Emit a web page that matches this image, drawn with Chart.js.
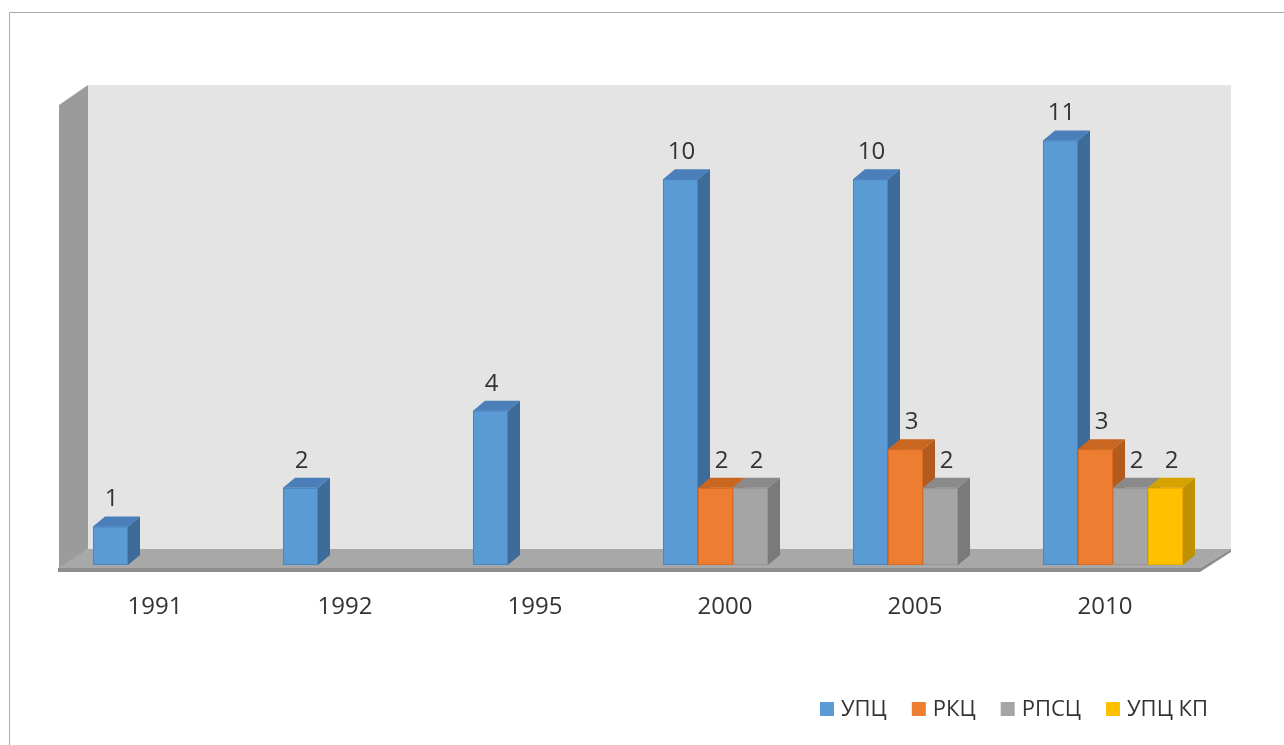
<!DOCTYPE html>
<html>
<head>
<meta charset="utf-8">
<script src="https://cdn.jsdelivr.net/npm/chart.js@4.4.1/dist/chart.umd.min.js"></script>
<style>
  html, body { margin: 0; padding: 0; background: #fff; }
  #wrap { position: relative; width: 1284px; height: 745px; }
</style>
</head>
<body>
<div id="wrap"><canvas id="chart" width="1284" height="745"></canvas></div>
<script>
// Данные по годам
const years = ['1991', '1992', '1995', '2000', '2005', '2010'];
const seriesNames = ['УПЦ', 'РКЦ', 'РПСЦ', 'УПЦ КП'];
const upc   = [1, 2, 4, 10, 10, 11];
const rkc   = [null, null, null, 2, 3, 3];
const rpsc  = [null, null, null, 2, 2, 2];
const upcKp = [null, null, null, null, null, 2];

// цвета граней: лицевая, кромка, верх, бок
const faces = [
    { front: '#5b9bd5', edge: '#4a86c0', top: '#4a7fb9', side: '#3d6b9a' },
    { front: '#ed7d31', edge: '#d86c24', top: '#c9661f', side: '#b35a1c' },
    { front: '#a5a5a5', edge: '#969696', top: '#8a8a8a', side: '#7a7a7a' },
    { front: '#ffc000', edge: '#e8ae00', top: '#d6a200', side: '#bf9000' }
];

const DX = 12, DY = -10;   // глубина столбиков
const FONT = '"Open Sans", "DejaVu Sans", sans-serif';
const TEXT_COLOR = '#333333';

function poly(ctx, pts, fill) {
    ctx.beginPath();
    ctx.moveTo(pts[0][0], pts[0][1]);
    for (let i = 1; i < pts.length; i++) ctx.lineTo(pts[i][0], pts[i][1]);
    ctx.closePath();
    ctx.fillStyle = fill;
    ctx.fill();
}

// рамка, стенки и пол
const wallsPlugin = {
    id: 'walls',
    beforeDraw(chart) {
        const ctx = chart.ctx;
        const a = chart.chartArea;
        ctx.save();
        ctx.fillStyle = '#fff';
        ctx.fillRect(0, 0, chart.width, chart.height);
        ctx.strokeStyle = '#a9a9a9';
        ctx.lineWidth = 1;
        ctx.beginPath();
        ctx.moveTo(9.5, chart.height);
        ctx.lineTo(9.5, 12.5);
        ctx.lineTo(chart.width, 12.5);
        ctx.stroke();

        const L = a.left, R = a.right, T = a.top, B = a.bottom;
        // задняя стенка
        ctx.fillStyle = '#e4e4e4';
        ctx.fillRect(L + 20, T - 17, (R + 23) - (L + 20), (B - 16) - (T - 17));
        // левая стенка
        poly(ctx, [[L - 9, T + 3], [L + 20, T - 17], [L + 20, B - 16], [L - 9, B + 5]], '#9b9b9b');
        // пол
        poly(ctx, [[L - 10, B + 3], [L + 20, B - 16], [R + 23, B - 16], [R - 8, B + 3]], '#a8a8a8');
        poly(ctx, [[L - 10, B + 3], [R - 8, B + 3], [R - 8, B + 7], [L - 10, B + 7]], '#8e8e8e');
        poly(ctx, [[R - 8, B + 3], [R + 23, B - 16], [R + 23, B - 13], [R - 8, B + 7]], '#8e8e8e');
        ctx.restore();
    }
};

// объёмные столбики, подписи значений и легенда
const bars3dPlugin = {
    id: 'bars3d',
    afterDatasetsDraw(chart) {
        const ctx = chart.ctx;
        const n = chart.data.labels.length;
        const sets = chart.data.datasets;
        ctx.save();
        // слева направо, чтобы правый столбик закрывал бок левого
        for (let c = 0; c < n; c++) {
            for (let d = 0; d < sets.length; d++) {
                const v = sets[d].data[c];
                if (v === null || v === undefined) continue;
                const bar = chart.getDatasetMeta(d).data[c];
                const p = bar.getProps(['x', 'y', 'base', 'width'], true);
                const x0 = p.x - p.width / 2, x1 = p.x + p.width / 2;
                const f = faces[d];
                ctx.fillStyle = f.front;
                ctx.fillRect(x0, p.y, p.width, p.base - p.y);
                ctx.strokeStyle = f.edge;
                ctx.lineWidth = 1;
                ctx.strokeRect(x0 + 0.5, p.y + 0.5, p.width - 1, p.base - p.y - 1);
                poly(ctx, [[x0, p.y], [x0 + DX, p.y + DY], [x1 + DX, p.y + DY], [x1, p.y]], f.top);
                poly(ctx, [[x1, p.y], [x1 + DX, p.y + DY], [x1 + DX, p.base + DY], [x1, p.base]], f.side);
            }
        }
        ctx.font = '24px ' + FONT;
        ctx.fillStyle = TEXT_COLOR;
        ctx.textAlign = 'center';
        ctx.textBaseline = 'middle';
        for (let d = 0; d < sets.length; d++) {
            chart.getDatasetMeta(d).data.forEach((bar, i) => {
                const v = sets[d].data[i];
                if (v === null || v === undefined) return;
                ctx.fillText(String(v), bar.x + (d === 0 ? 1 : 6), bar.y - 27);
            });
        }
        ctx.restore();
    },
    afterDraw(chart) {
        const ctx = chart.ctx;
        ctx.save();
        ctx.font = '22px ' + FONT;
        ctx.textBaseline = 'middle';
        ctx.textAlign = 'left';
        const box = 14, gapText = 7, gapItem = 25;
        const widths = chart.data.datasets.map(ds => ctx.measureText(ds.label).width);
        let total = 0;
        widths.forEach((w, i) => { total += box + gapText + w + (i ? gapItem : 0); });
        let x = 1208 - total;
        const y = 709;
        chart.data.datasets.forEach((ds, i) => {
            ctx.fillStyle = faces[i].front;
            ctx.fillRect(x, y - box / 2, box, box);
            ctx.fillStyle = TEXT_COLOR;
            ctx.fillText(ds.label, x + box + gapText, y + 1);
            x += box + gapText + widths[i] + gapItem;
        });
        ctx.restore();
    }
};

const allSeries = [upc, rkc, rpsc, upcKp];

new Chart(document.getElementById('chart'), {
    type: 'bar',
    data: {
        labels: years,
        datasets: allSeries.map((vals, i) => ({
            label: seriesNames[i],
            data: vals,
            backgroundColor: faces[i].front,
            borderWidth: 0,
            categoryPercentage: 0.737,
            barPercentage: 1.0
        }))
    },
    options: {
        responsive: false,
        animation: false,
        layout: { padding: { top: 102, left: 68, right: 76, bottom: 0 } },
        plugins: {
            legend: { display: false },
            tooltip: { enabled: false }
        },
        scales: {
            x: {
                grid: { display: false, drawTicks: false },
                border: { display: false },
                ticks: {
                    color: TEXT_COLOR,
                    font: { family: FONT, size: 24 },
                    padding: 28,
                    labelOffset: -8,
                    maxRotation: 0
                },
                afterFit(scale) { scale.height = 180; }
            },
            y: {
                display: false,
                min: 0,
                max: 12
            }
        }
    },
    plugins: [wallsPlugin, bars3dPlugin]
});
</script>
</body>
</html>
